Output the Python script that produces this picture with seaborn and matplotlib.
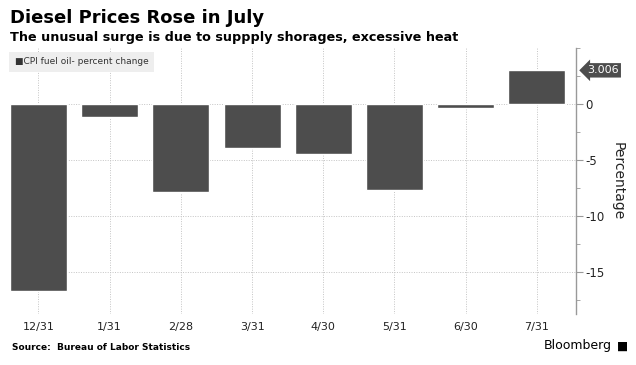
import pandas as pd
import matplotlib
matplotlib.use("Agg")
import matplotlib.pyplot as plt
import seaborn as sns
from matplotlib.ticker import MultipleLocator, FixedLocator

dates = ["12/31", "1/31", "2/28", "3/31", "4/30", "5/31", "6/30", "7/31"]
pct_change = [-16.7, -1.15, -7.85, -3.93, -4.45, -7.68, -0.38, 3.006]

BAR = "#4d4d4d"

sns.set_style("white")
plt.rcParams["font.family"] = ["DejaVu Sans"]

df = pd.DataFrame({"date": dates, "pct": pct_change})

fig = plt.figure(figsize=(6.36, 3.65), dpi=100)
ax = fig.add_axes([10 / 636, 1 - 314 / 365, 566 / 636, 266 / 365])

sns.barplot(data=df, x="date", y="pct", color=BAR, width=0.8, saturation=1, ax=ax)

ax.set_xlim(-0.4, 7.55)
ax.set_ylim(-18.75, 5)

# dotted grid
for i in range(len(dates)):
    ax.axvline(i, color="#c4c4c4", lw=0.7, ls=(0, (1, 1.5)), zorder=0)
for y in [0, -5, -10, -15]:
    ax.axhline(y, color="#c4c4c4", lw=0.7, ls=(0, (1, 1.5)), zorder=0)

for s in ["top", "left", "bottom"]:
    ax.spines[s].set_visible(False)
ax.spines["right"].set_color("#999999")
ax.spines["right"].set_linewidth(1.0)

ax.yaxis.tick_right()
ax.yaxis.set_label_position("right")
ax.yaxis.set_major_locator(FixedLocator([0, -5, -10, -15]))
ax.yaxis.set_minor_locator(MultipleLocator(2.5))
ax.tick_params(axis="y", which="major", length=5, color="#999999", labelsize=8.5, pad=2, labelcolor="#222222")
ax.tick_params(axis="y", which="minor", length=3, color="#999999")
ax.tick_params(axis="x", length=0, labelsize=8, pad=6, labelcolor="#222222")
ax.set_yticklabels(["0", "-5", "-10", "-15"])
ax.set_xlabel("")
ax.set_ylabel("Percentage", rotation=270, fontsize=10, labelpad=14, color="#222222")

# value tag for last bar
ax.annotate(f"{pct_change[-1]:.3f}", xy=(7.55, pct_change[-1]), xycoords="data",
            xytext=(8, 0), textcoords="offset points", ha="left", va="center",
            fontsize=8, color="white",
            bbox=dict(boxstyle="larrow,pad=0.2", fc=BAR, ec="none"),
            annotation_clip=False)

# legend box
ax.text(0.008, 0.965, "\u25a0CPI fuel oil- percent change", transform=ax.transAxes,
        fontsize=6.5, color="#333333", ha="left", va="top",
        bbox=dict(boxstyle="square,pad=0.6", fc="#eeeeee", ec="none"))

fig.text(10 / 636, 1 - 18 / 365, "Diesel Prices Rose in July", fontsize=13,
         fontweight="bold", va="center", ha="left", color="black")
fig.text(10 / 636, 1 - 38 / 365, "The unusual surge is due to suppply shorages, excessive heat",
         fontsize=9.2, fontweight="bold", va="center", ha="left", color="black")
fig.text(12 / 636, 1 - 348 / 365, "Source:  Bureau of Labor Statistics", fontsize=6.5,
         fontweight="bold", va="center", ha="left", color="black")
fig.text(612 / 636, 1 - 346 / 365, "Bloomberg", fontsize=9, va="center", ha="right", color="black")
fig.text(623 / 636, 1 - 346 / 365, "\u25a0", fontsize=8.5, va="center", ha="center", color="black")

fig.savefig("out.png", dpi=100)
plt.close(fig)
